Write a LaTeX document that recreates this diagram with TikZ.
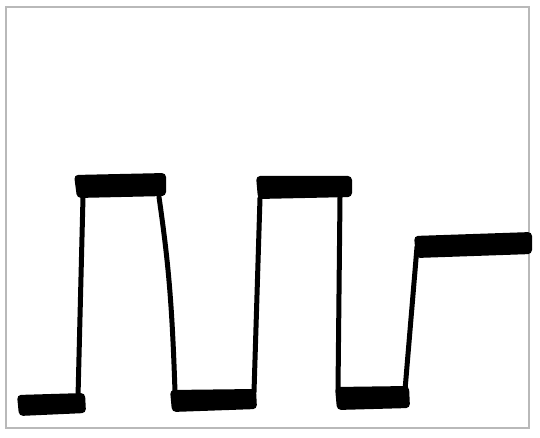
\documentclass[tikz,border=0pt]{standalone}
\begin{document}
\begin{tikzpicture}[x=1pt,y=-1pt,
    level/.style={fill=black, rounded corners=4pt},
    edge/.style={draw=black, line width=5pt, line cap=round}]

    \useasboundingbox (0,0) rectangle (540,438);

    % frame round the signal
    \draw[gray!55, line width=2pt] (6,7) rectangle (529,428);

    % low levels
    \fill[level] (17,395) -- (85,393) -- (86,413) -- (19,416) -- cycle;
    \fill[level] (170,390) -- (256,389) -- (257,409) -- (172,412) -- cycle;
    \fill[level] (335,387) -- (409,386) -- (410,408) -- (337,410) -- cycle;

    % high levels
    \fill[level] (74,175) -- (166,173) -- (166,196) -- (77,198) -- cycle;
    \fill[level] (256,176) -- (352,176) -- (352,197) -- (258,199) -- cycle;
    \fill[level] (414,236) -- (532,232) -- (532,254) -- (416,258) -- cycle;

    % edges between the levels
    \draw[edge] (83,197) -- (78,397);
    \draw[edge] (159,197) .. controls (168,260) and (172,300) .. (175,392);
    \draw[edge] (260,198) -- (254,392);
    \draw[edge] (340,197) -- (338,390);
    \draw[edge] (405,390) -- (417,247);
\end{tikzpicture}
\end{document}
